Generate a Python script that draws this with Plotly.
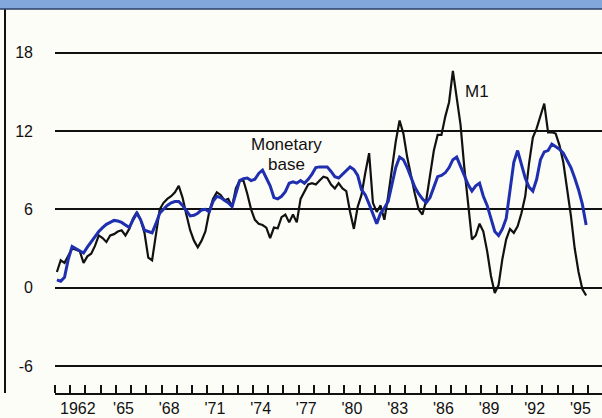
import plotly.graph_objects as go

# Quarterly observations, 1961Q1 .. 1995Q4 (year-over-year growth, percent)
years = list(range(1961, 1996))

m1 = [
    1.2, 2.1, 1.9, 2.5,      # 1961
    3.0, 2.9, 2.8, 1.9,      # 1962
    2.4, 2.6, 3.2, 4.0,      # 1963
    3.8, 3.5, 4.0, 4.1,      # 1964
    4.3, 4.4, 4.0, 4.5,      # 1965
    5.3, 5.8, 5.2, 4.2,      # 1966
    2.3, 2.1, 3.9, 6.0,      # 1967
    6.5, 6.8, 7.0, 7.3,      # 1968
    7.8, 6.9, 5.6, 4.4,      # 1969
    3.6, 3.1, 3.6, 4.3,      # 1970
    5.8, 6.8, 7.3, 7.1,      # 1971
    6.7, 6.8, 6.2, 7.6,      # 1972
    8.2, 8.2, 7.2, 6.0,      # 1973
    5.2, 4.9, 4.8, 4.6,      # 1974
    3.8, 4.6, 4.55, 5.4,     # 1975
    5.6, 5.0, 5.6, 5.0,      # 1976
    6.8, 7.4, 7.9, 8.0,      # 1977
    7.9, 8.2, 8.5, 8.4,      # 1978
    7.9, 7.6, 8.0, 7.6,      # 1979
    7.4, 5.8, 4.5, 6.2,      # 1980
    7.1, 8.8, 10.3, 6.5,     # 1981
    5.8, 6.3, 5.2, 7.0,      # 1982
    9.0, 11.2, 12.8, 11.8,   # 1983
    10.0, 8.5, 7.2, 6.0,     # 1984
    5.6, 6.7, 8.5, 10.5,     # 1985
    11.7, 11.7, 13.1, 14.2,  # 1986
    16.6, 14.5, 12.5, 9.2,   # 1987
    6.2, 3.7, 4.0, 4.9,      # 1988
    4.3, 2.8, 0.9, -0.4,     # 1989
    0.2, 2.2, 3.7, 4.5,      # 1990
    4.2, 4.7, 5.7, 7.0,      # 1991
    9.5, 11.5, 12.2, 13.2,   # 1992
    14.1, 11.9, 11.9, 11.8,  # 1993
    10.9, 9.6, 7.6, 5.5,     # 1994
    3.0, 1.2, -0.1, -0.6,    # 1995
]

monetary_base = [
    0.6, 0.5, 0.8, 2.2,      # 1961
    3.15, 3.0, 2.8, 2.65,    # 1962
    3.1, 3.5, 3.9, 4.3,      # 1963
    4.6, 4.85, 5.0, 5.15,    # 1964
    5.1, 5.0, 4.8, 4.6,      # 1965
    5.2, 5.7, 5.2, 4.4,      # 1966
    4.3, 4.2, 4.9, 5.7,      # 1967
    6.0, 6.3, 6.5, 6.6,      # 1968
    6.6, 6.3, 5.9, 5.5,      # 1969
    5.55, 5.7, 5.95, 6.0,    # 1970
    5.8, 6.6, 7.0, 6.9,      # 1971
    6.7, 6.5, 6.2, 7.2,      # 1972
    8.2, 8.35, 8.4, 8.2,     # 1973
    8.3, 8.75, 9.0, 8.4,     # 1974
    7.8, 6.9, 6.8, 7.0,      # 1975
    7.35, 8.0, 8.1, 8.0,     # 1976
    8.2, 8.0, 8.3, 8.7,      # 1977
    9.2, 9.25, 9.25, 9.25,   # 1978
    8.9, 8.5, 8.4, 8.7,      # 1979
    9.0, 9.25, 9.05, 8.6,    # 1980
    7.5, 7.1, 6.4, 5.6,      # 1981
    4.9, 5.7, 6.1, 6.6,      # 1982
    8.0, 9.2, 10.0, 9.8,     # 1983
    9.2, 8.5, 7.7, 7.2,      # 1984
    6.8, 6.5, 6.9, 7.7,      # 1985
    8.5, 8.6, 8.8, 9.2,      # 1986
    9.8, 10.0, 9.3, 8.5,     # 1987
    7.9, 7.4, 7.8, 8.0,      # 1988
    7.0, 6.3, 5.3, 4.3,      # 1989
    4.0, 4.5, 5.3, 7.5,      # 1990
    9.6, 10.5, 9.4, 8.4,     # 1991
    7.7, 7.4, 8.3, 9.8,      # 1992
    10.4, 10.5, 11.0, 10.8,  # 1993
    10.6, 10.3, 9.8, 9.2,    # 1994
    8.4, 7.5, 6.4, 4.8,      # 1995
]

label_years = [1962, 1965, 1968, 1971, 1974, 1977, 1980, 1983, 1986, 1989, 1992, 1995]
label_text = ["1962", "'65", "'68", "'71", "'74", "'77", "'80", "'83", "'86", "'89", "'92", "'95"]
y_ticks = [-6, 0, 6, 12, 18]

# mid-quarter time positions
t = [y + 0.125 + 0.25 * q for y in years for q in range(4)]

FONT = "Arial, Liberation Sans, Helvetica, sans-serif"

fig = go.Figure()
fig.add_trace(go.Scatter(x=t, y=m1, mode="lines", name="M1",
                         line=dict(color="#111111", width=2.2)))
fig.add_trace(go.Scatter(x=t, y=monetary_base, mode="lines", name="Monetary base",
                         line=dict(color="#1f2fb0", width=3)))

fig.update_layout(
    width=602, height=418,
    margin=dict(l=55, r=0, t=12, b=25),
    paper_bgcolor="#fdfdf8", plot_bgcolor="#fdfdf8",
    showlegend=False,
    font=dict(family=FONT, size=16, color="#111111"),
)

fig.update_xaxes(
    range=[1961, 1996.916],
    tickmode="array",
    tickvals=[y + 0.5 for y in label_years],
    ticktext=label_text,
    ticks="",
    showgrid=False, zeroline=False,
    showline=True, linecolor="#111111", linewidth=2,
    tickfont=dict(size=16, family=FONT, color="#111111"),
    minor=dict(tickmode="linear", tick0=1961, dtick=1, ticks="inside",
               ticklen=8, tickwidth=1.5, tickcolor="#111111", showgrid=False),
)

fig.update_yaxes(
    range=[-8.064, 21.11],
    tickmode="array", tickvals=y_ticks, ticktext=[str(v) for v in y_ticks],
    showgrid=True, gridcolor="#111111", gridwidth=1.5,
    zeroline=False, showline=False, ticks="",
    ticklabelstandoff=21,
    tickfont=dict(size=16, family=FONT, color="#111111"),
)

# frame: left border and header band
fig.add_shape(type="line", xref="paper", yref="paper",
              x0=-0.0914, x1=-0.0914, y0=0, y1=1.008,
              line=dict(color="#111111", width=2))
fig.add_shape(type="rect", xref="paper", yref="paper",
              x0=-0.11, x1=1.01, y0=1.008, y1=1.04,
              fillcolor="#82a7dc", line=dict(width=0))
fig.add_shape(type="line", xref="paper", yref="paper",
              x0=-0.11, x1=1.01, y0=1.008, y1=1.008,
              line=dict(color="#2a3f66", width=1.5))

fig.add_annotation(text="percent", xref="x", yref="y", x=1960.9, y=18,
                   xanchor="left", yanchor="bottom", yshift=2, showarrow=False,
                   font=dict(size=16, family=FONT, color="#111111"))
fig.add_annotation(text="Monetary", xref="x", yref="y", x=1976.2, y=11.0,
                   xanchor="center", yanchor="middle", showarrow=False,
                   font=dict(size=17, family=FONT, color="#111111"))
fig.add_annotation(text="base", xref="x", yref="y", x=1976.2, y=9.4,
                   xanchor="center", yanchor="middle", showarrow=False,
                   font=dict(size=17, family=FONT, color="#111111"))
fig.add_annotation(text="M1", xref="x", yref="y", x=1988.7, y=15.0,
                   xanchor="center", yanchor="middle", showarrow=False,
                   font=dict(size=17, family=FONT, color="#111111"))

fig.write_html("out.html", config={"displayModeBar": False},
               post_script="document.body.style.margin='0';document.body.style.overflow='hidden';")
